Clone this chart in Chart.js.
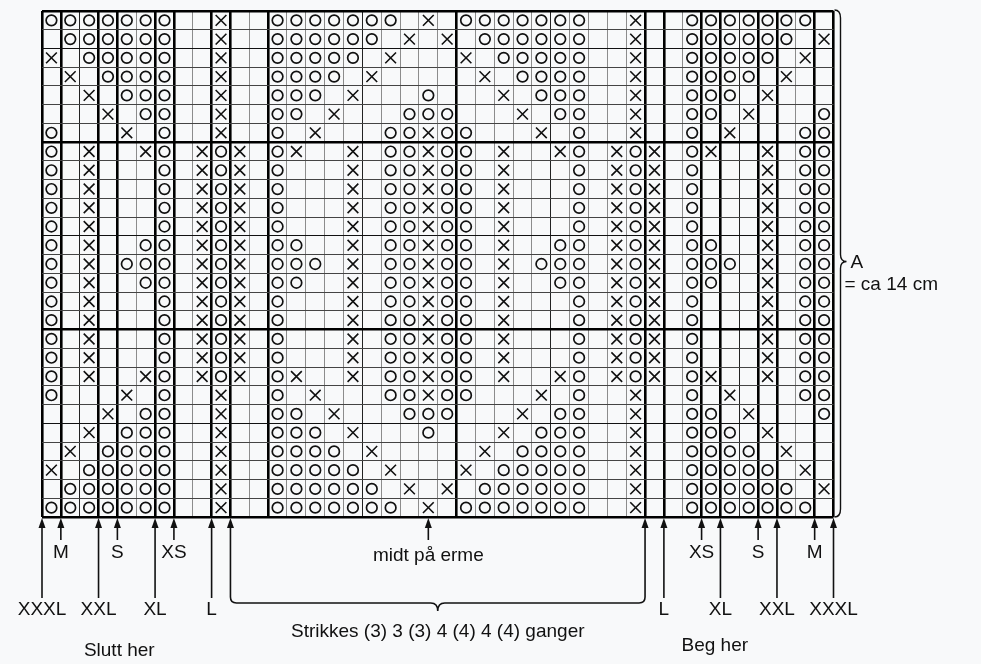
<!DOCTYPE html>
<html>
<head>
<meta charset="utf-8">
<script src="https://cdn.jsdelivr.net/npm/chart.js@4.4.1/dist/chart.umd.min.js"></script>
<style>
  html, body { margin: 0; padding: 0; background: #f8f9fa; }
  canvas { display: block; }
</style>
</head>
<body>
<canvas id="chart" width="981" height="664"></canvas>
<script>
// diagram rows, top to bottom (O = omslag, X = sammen, . = tom rute)
const rows = [
  'OOOOOOO..X..OOOOOOO.X.OOOOOOO..X..OOOOOOO.',
  '.OOOOOO..X..OOOOOO.X.X.OOOOOO..X..OOOOOO.X',
  'X.OOOOO..X..OOOOO.X...X.OOOOO..X..OOOOO.X.',
  '.X.OOOO..X..OOOO.X.....X.OOOO..X..OOOO.X..',
  '..X.OOO..X..OOO.X...O...X.OOO..X..OOO.X...',
  '...X.OO..X..OO.X...OOO...X.OO..X..OO.X...O',
  'O...X.O..X..O.X...OOXOO...X.O..X..O.X...OO',
  'O.X..XO.XOX.OX..X.OOXOO.X..XO.XOX.OX..X.OO',
  'O.X...O.XOX.O...X.OOXOO.X...O.XOX.O...X.OO',
  'O.X...O.XOX.O...X.OOXOO.X...O.XOX.O...X.OO',
  'O.X...O.XOX.O...X.OOXOO.X...O.XOX.O...X.OO',
  'O.X...O.XOX.O...X.OOXOO.X...O.XOX.O...X.OO',
  'O.X..OO.XOX.OO..X.OOXOO.X..OO.XOX.OO..X.OO',
  'O.X.OOO.XOX.OOO.X.OOXOO.X.OOO.XOX.OOO.X.OO',
  'O.X..OO.XOX.OO..X.OOXOO.X..OO.XOX.OO..X.OO',
  'O.X...O.XOX.O...X.OOXOO.X...O.XOX.O...X.OO',
  'O.X...O.XOX.O...X.OOXOO.X...O.XOX.O...X.OO',
  'O.X...O.XOX.O...X.OOXOO.X...O.XOX.O...X.OO',
  'O.X...O.XOX.O...X.OOXOO.X...O.XOX.O...X.OO',
  'O.X..XO.XOX.OX..X.OOXOO.X..XO.XOX.OX..X.OO',
  'O...X.O..X..O.X...OOXOO...X.O..X..O.X...OO',
  '...X.OO..X..OO.X...OOO...X.OO..X..OO.X...O',
  '..X.OOO..X..OOO.X...O...X.OOO..X..OOO.X...',
  '.X.OOOO..X..OOOO.X.....X.OOOO..X..OOOO.X..',
  'X.OOOOO..X..OOOOO.X...X.OOOOO..X..OOOOO.X.',
  '.OOOOOO..X..OOOOOO.X.X.OOOOOO..X..OOOOOO.X',
  'OOOOOOO..X..OOOOOOO.X.OOOOOOO..X..OOOOOOO.'
];
const NCOLS = 42;
const NROWS = rows.length;

// size markers under the chart (grid line index they point at)
const leftSizes = ['XXXL', 'M', 'XXL', 'S', 'XL', 'XS', 'L'];
const leftSizeCols = [0, 1, 3, 4, 6, 7, 9];
const rightSizes = ['L', 'XS', 'XL', 'S', 'XXL', 'M', 'XXXL'];
const rightSizeCols = [33, 35, 36, 38, 39, 41, 42];
const repeatCols = [10, 32];
const midCol = 20.5;
const repeatText = 'Strikkes (3) 3 (3) 4 (4) 4 (4) ganger';
const midText = 'midt på erme';
const endText = 'Slutt her';
const startText = 'Beg her';
const heightText = ['A', '= ca 14 cm'];

const heavyCols = [0, 1, 3, 4, 6, 7, 9, 10, 12, 22, 32, 33, 35, 36, 38, 39, 41, 42];

const oPoints = [];
const xPoints = [];
rows.forEach((row, r) => {
  for (let c = 0; c < row.length; c++) {
    const p = { x: c + 0.5, y: NROWS - r - 0.5 };
    if (row[c] === 'O') oPoints.push(p);
    else if (row[c] === 'X') xPoints.push(p);
  }
});

const FONT = '19px "Liberation Sans", Arial, sans-serif';

const notes = {
  id: 'notes',
  afterDraw(chart) {
    const { ctx, chartArea: a, scales: { x } } = chart;
    const b = a.bottom;
    ctx.save();
    ctx.strokeStyle = '#111';
    ctx.fillStyle = '#111';
    ctx.lineWidth = 1.6;
    ctx.font = FONT;
    ctx.textAlign = 'center';
    ctx.textBaseline = 'middle';

    const head = (px) => {
      ctx.beginPath();
      ctx.moveTo(px, b + 1);
      ctx.lineTo(px - 3.5, b + 11);
      ctx.lineTo(px + 3.5, b + 11);
      ctx.closePath();
      ctx.fill();
    };
    const arrow = (px, len) => {
      ctx.beginPath();
      ctx.moveTo(px, b + 8);
      ctx.lineTo(px, b + len);
      ctx.stroke();
      head(px);
    };

    leftSizes.forEach((s, i) => {
      const px = x.getPixelForValue(leftSizeCols[i]);
      const long = i % 2 === 0;
      arrow(px, long ? 81 : 23);
      ctx.fillText(s, px, long ? b + 93 : b + 36);
    });
    rightSizes.forEach((s, i) => {
      const px = x.getPixelForValue(rightSizeCols[i]);
      const long = i % 2 === 0;
      arrow(px, long ? 81 : 23);
      ctx.fillText(s, px, long ? b + 93 : b + 36);
    });

    // midt på erme
    const mx = x.getPixelForValue(midCol);
    arrow(mx, 23);
    ctx.fillText(midText, mx, b + 39);

    // repeat bracket
    const r0 = x.getPixelForValue(repeatCols[0]);
    const r1 = x.getPixelForValue(repeatCols[1]);
    const rc = (r0 + r1) / 2;
    const by = b + 86;
    head(r0);
    head(r1);
    ctx.beginPath();
    ctx.moveTo(r0, b + 8);
    ctx.lineTo(r0, by - 6);
    ctx.quadraticCurveTo(r0, by, r0 + 6, by);
    ctx.lineTo(rc - 7, by);
    ctx.quadraticCurveTo(rc, by, rc, by + 8);
    ctx.quadraticCurveTo(rc, by, rc + 7, by);
    ctx.lineTo(r1 - 6, by);
    ctx.quadraticCurveTo(r1, by, r1, by - 6);
    ctx.lineTo(r1, b + 8);
    ctx.stroke();
    ctx.fillText(repeatText, rc, b + 115);

    ctx.fillText(endText, x.getPixelForValue(4.1), b + 134);
    ctx.fillText(startText, x.getPixelForValue(35.7), b + 129);

    // height brace
    const bx = a.right + 1;
    const top = a.top - 1;
    const bot = a.bottom;
    const my = (top + bot) / 2 - 2;
    ctx.lineWidth = 1.4;
    ctx.beginPath();
    ctx.moveTo(bx, top);
    ctx.quadraticCurveTo(bx + 6, top, bx + 6, top + 8);
    ctx.lineTo(bx + 6, my - 7);
    ctx.quadraticCurveTo(bx + 6, my, bx + 12, my);
    ctx.quadraticCurveTo(bx + 6, my, bx + 6, my + 7);
    ctx.lineTo(bx + 6, bot - 8);
    ctx.quadraticCurveTo(bx + 6, bot, bx, bot);
    ctx.stroke();
    ctx.textAlign = 'left';
    ctx.fillText(heightText[0], a.right + 17, my + 1);
    ctx.fillText(heightText[1], a.right + 11, my + 23);
    ctx.restore();
  }
};

new Chart(document.getElementById('chart'), {
  type: 'scatter',
  data: {
    datasets: [
      {
        label: 'O',
        data: oPoints,
        pointStyle: 'circle',
        pointRadius: 5.3,
        borderWidth: 1.7,
        borderColor: '#111',
        backgroundColor: 'rgba(0,0,0,0)'
      },
      {
        label: 'X',
        data: xPoints,
        pointStyle: 'crossRot',
        pointRadius: 7.6,
        borderWidth: 1.6,
        borderColor: '#111'
      }
    ]
  },
  options: {
    responsive: false,
    animation: false,
    events: [],
    layout: { padding: { left: 42, top: 11, right: 147.5, bottom: 147 } },
    plugins: { legend: { display: false }, tooltip: { enabled: false } },
    scales: {
      x: {
        type: 'linear',
        min: 0,
        max: NCOLS,
        border: { display: false },
        ticks: { display: false, stepSize: 1, autoSkip: false },
        grid: {
          drawTicks: false,
          lineWidth: (c) => heavyCols.includes(c.tick.value) ? 2.6 : 1,
          color: (c) => {
            const v = c.tick.value;
            if (heavyCols.includes(v)) return '#000';
            return (NCOLS - v) % 5 === 0 ? '#222' : '#8c8c8c';
          }
        }
      },
      y: {
        type: 'linear',
        min: 0,
        max: NROWS,
        border: { display: false },
        ticks: { display: false, stepSize: 1, autoSkip: false },
        grid: {
          drawTicks: false,
          lineWidth: (c) => {
            const v = c.tick.value;
            return (v === 0 || v === NROWS || v % 10 === 0) ? 2.6 : 1;
          },
          color: (c) => {
            const v = c.tick.value;
            if (v === 0 || v === NROWS || v % 10 === 0) return '#000';
            return v % 5 === 0 ? '#111' : '#444';
          }
        }
      }
    }
  },
  plugins: [notes]
});
</script>
</body>
</html>
